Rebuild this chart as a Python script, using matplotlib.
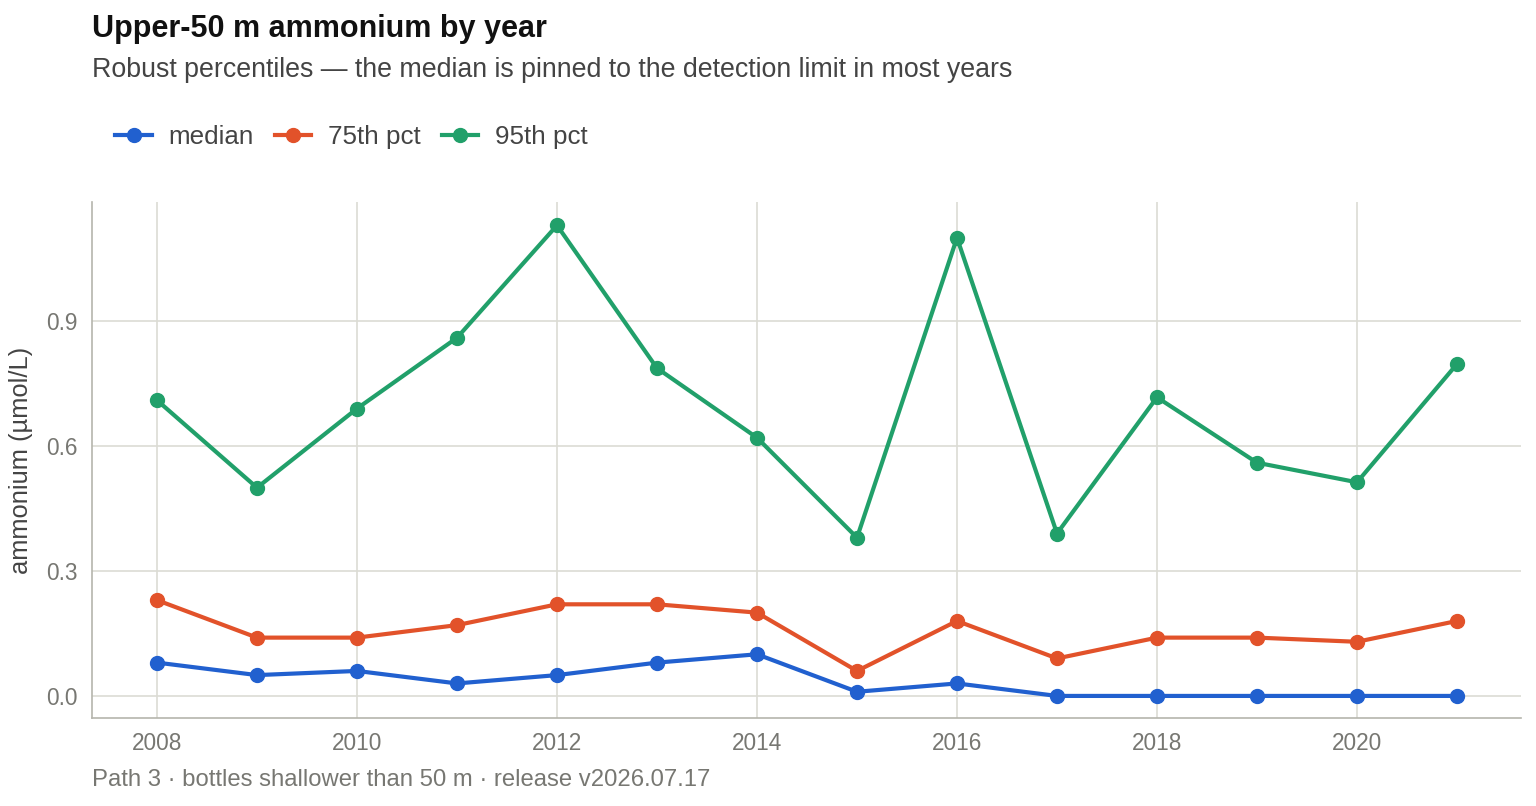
import matplotlib
matplotlib.use("Agg")
import matplotlib.pyplot as plt
from matplotlib.lines import Line2D

plt.rcParams['font.family'] = ['Liberation Sans', 'DejaVu Sans']

years = list(range(2008, 2022))
median = [0.08, 0.05, 0.06, 0.03, 0.05, 0.08, 0.10, 0.01, 0.03, 0.0, 0.0, 0.0, 0.0, 0.0]
p75 = [0.23, 0.14, 0.14, 0.17, 0.22, 0.22, 0.20, 0.06, 0.18, 0.09, 0.14, 0.14, 0.13, 0.18]
p95 = [0.71, 0.50, 0.69, 0.86, 1.13, 0.787, 0.62, 0.38, 1.10, 0.39, 0.717, 0.56, 0.513, 0.797]
series_names = ["median", "75th pct", "95th pct"]
colors = ["#2160cf", "#e2522a", "#21a06a"]
xticks = [2008, 2010, 2012, 2014, 2016, 2018, 2020]
yticks = [0.0, 0.3, 0.6, 0.9]

fig = plt.figure(figsize=(15.36, 8.06), dpi=100)
ax = fig.add_axes([92/1536, 1 - 718/806, (1521-92)/1536, (718-202)/806])

for vals, c, name in zip([median, p75, p95], colors, series_names):
    ax.plot(years, vals, color=c, lw=3, marker='o', ms=10, label=name, zorder=3)

ax.set_xlim(2007.35, 2021.64)
ax.set_ylim(-0.053, 1.186)
ax.set_xticks(xticks)
ax.set_xticklabels([str(x) for x in xticks])
ax.set_yticks(yticks)
ax.set_yticklabels([f"{y:.1f}" for y in yticks])
ax.grid(True, color="#dcdcd4", lw=1.2, zorder=0)
ax.tick_params(length=0, labelsize=16.3, labelcolor="#777772", pad=10)
for s in ["top", "right"]:
    ax.spines[s].set_visible(False)
for s in ["left", "bottom"]:
    ax.spines[s].set_color("#b5b5ad")
    ax.spines[s].set_linewidth(1.2)
ax.set_ylabel("ammonium (µmol/L)", fontsize=18.4, color="#444444", labelpad=10)

fig.text(92/1536, 1 - 29/806, "Upper-50 m ammonium by year", fontsize=22, fontweight='bold',
         color="#111111", va='center', ha='left')
fig.text(92/1536, 1 - 70/806, "Robust percentiles — the median is pinned to the detection limit in most years",
         fontsize=19.3, color="#444444", va='center', ha='left')
fig.text(92/1536, 1 - 780/806, "Path 3 · bottles shallower than 50 m · release v2026.07.17",
         fontsize=17.2, color="#777772", va='center', ha='left')

handles = [Line2D([0], [0], color=c, lw=3, marker='o', ms=10) for c in colors]
fig.legend(handles, series_names, loc='center left', bbox_to_anchor=(92/1536, 1 - 137/806),
           ncol=3, frameon=False, fontsize=18.7, handlelength=1.4, handletextpad=0.65,
           columnspacing=0.8, labelcolor="#444444")

fig.savefig("out.png", dpi=100)
